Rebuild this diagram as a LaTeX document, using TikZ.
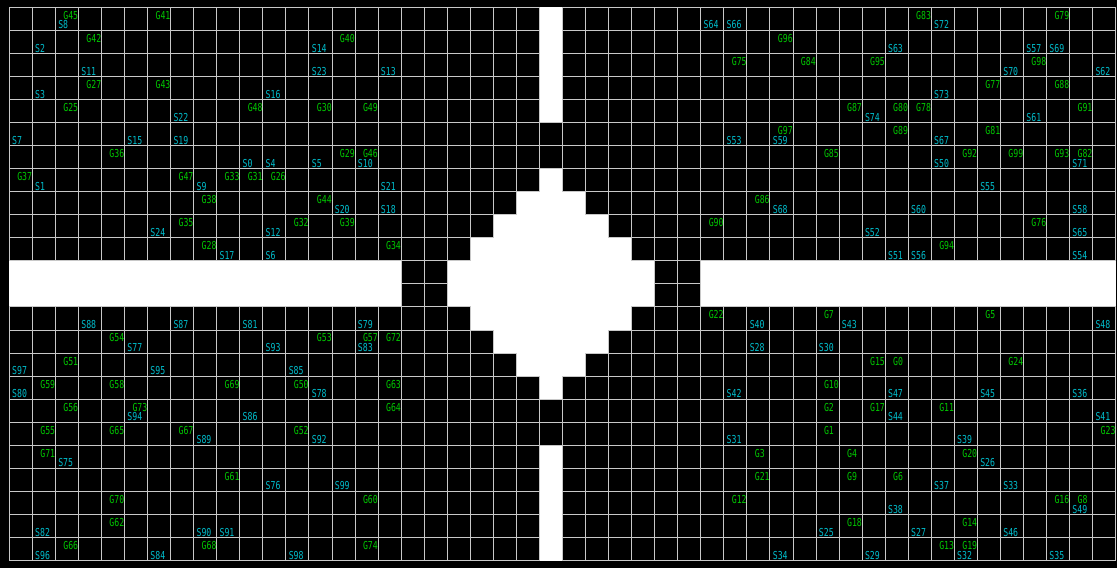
\documentclass[tikz,border=0pt]{standalone}
\usepackage{graphicx}
\usepackage{fontspec}
\newfontfamily\labfont{DejaVu Sans Mono}
\definecolor{gcol}{RGB}{0,200,0}
\definecolor{scol}{RGB}{0,190,205}
\definecolor{gridc}{RGB}{200,200,200}
\tikzset{
  glabel/.style={text=gcol, font=\labfont\fontsize{8.2}{8.2}\selectfont, anchor=west, inner sep=0pt},
  slabel/.style={text=scol, font=\labfont\fontsize{8.2}{8.2}\selectfont, anchor=west, inner sep=0pt},
  gridline/.style={draw=gridc, line width=0.75pt},
  freecell/.style={fill=white}
}
\begin{document}
\begin{tikzpicture}[x=0.75pt,y=-0.75pt]
\useasboundingbox (0,0) rectangle (1117,568);
\fill[black] (0,0) rectangle (1117,568);
\begin{scope}[shift={(9.3,7.3)},x=17.2875pt,y=-17.2875pt]
  % grid
  \foreach \c in {0,...,48} \draw[gridline] (\c,0) -- (\c,24);
  \foreach \r in {0,...,24} \draw[gridline] (0,\r) -- (48,\r);
  % free (white) regions
  \fill[freecell] (23,0) rectangle (24,5);
  \fill[freecell] (23,19) rectangle (24,24);
  \fill[freecell] (0,11) rectangle (17,13);
  \fill[freecell] (30,11) rectangle (48,13);
  \fill[freecell] (23,7) -- (24,7) -- (24,8) -- (25,8) -- (25,9) -- (26,9) -- (26,10) -- (27,10) -- (27,11) -- (28,11) -- (28,13) -- (27,13) -- (27,14) -- (26,14) -- (26,15) -- (25,15) -- (25,16) -- (24,16) -- (24,17) -- (23,17) -- (23,16) -- (22,16) -- (22,15) -- (21,15) -- (21,14) -- (20,14) -- (20,13) -- (19,13) -- (19,11) -- (20,11) -- (20,10) -- (21,10) -- (21,9) -- (22,9) -- (22,8) -- (23,8) -- cycle;
  % borders of free regions
  \draw[gridline] (23,0) -- (23,5) -- (24,5) -- (24,0);
  \draw[gridline] (23,24) -- (23,19) -- (24,19) -- (24,24);
  \draw[gridline] (0,11) -- (17,11) -- (17,13) -- (0,13);
  \draw[gridline] (48,11) -- (30,11) -- (30,13) -- (48,13);
  \draw[gridline] (23,7) -- (24,7) -- (24,8) -- (25,8) -- (25,9) -- (26,9) -- (26,10) -- (27,10) -- (27,11) -- (28,11) -- (28,13) -- (27,13) -- (27,14) -- (26,14) -- (26,15) -- (25,15) -- (25,16) -- (24,16) -- (24,17) -- (23,17) -- (23,16) -- (22,16) -- (22,15) -- (21,15) -- (21,14) -- (20,14) -- (20,13) -- (19,13) -- (19,11) -- (20,11) -- (20,10) -- (21,10) -- (21,9) -- (22,9) -- (22,8) -- (23,8) -- cycle;
  % G labels
  \foreach \c/\r/\n in {2/0/45, 6/0/41, 39/0/83, 45/0/79,
    3/1/42, 14/1/40, 33/1/96,
    31/2/75, 34/2/84, 37/2/95, 44/2/98,
    3/3/27, 6/3/43, 42/3/77, 45/3/88,
    2/4/25, 10/4/48, 13/4/30, 15/4/49, 36/4/87, 38/4/80, 39/4/78, 46/4/91,
    33/5/97, 38/5/89, 42/5/81,
    4/6/36, 14/6/29, 15/6/46, 35/6/85, 41/6/92, 43/6/99, 45/6/93, 46/6/82,
    0/7/37, 7/7/47, 9/7/33, 10/7/31, 11/7/26,
    8/8/38, 13/8/44, 32/8/86,
    7/9/35, 12/9/32, 14/9/39, 30/9/90, 44/9/76,
    8/10/28, 16/10/34, 40/10/94,
    30/13/22, 35/13/7, 42/13/5,
    4/14/54, 13/14/53, 15/14/57, 16/14/72,
    2/15/51, 37/15/15, 38/15/0, 43/15/24,
    1/16/59, 4/16/58, 9/16/69, 12/16/50, 16/16/63, 35/16/10,
    2/17/56, 5/17/73, 16/17/64, 35/17/2, 37/17/17, 40/17/11,
    1/18/55, 4/18/65, 7/18/67, 12/18/52, 35/18/1, 47/18/23,
    1/19/71, 32/19/3, 36/19/4, 41/19/20,
    9/20/61, 32/20/21, 36/20/9, 38/20/6,
    4/21/70, 15/21/60, 31/21/12, 45/21/16, 46/21/8,
    4/22/62, 36/22/18, 41/22/14,
    2/23/66, 8/23/68, 15/23/74, 40/23/13, 41/23/19}
    \node[glabel] (G\n) at (\c+0.334,\r+0.347) {\scalebox{0.75}[1]{G\n}};
  % S labels
  \foreach \c/\r/\n in {2/0/8, 30/0/64, 31/0/66, 40/0/72,
    1/1/2, 13/1/14, 38/1/63, 44/1/57, 45/1/69,
    3/2/11, 13/2/23, 16/2/13, 43/2/70, 47/2/62,
    1/3/3, 11/3/16, 40/3/73,
    7/4/22, 37/4/74, 44/4/61,
    0/5/7, 5/5/15, 7/5/19, 31/5/53, 33/5/59, 40/5/67,
    10/6/0, 11/6/4, 13/6/5, 15/6/10, 40/6/50, 46/6/71,
    1/7/1, 8/7/9, 16/7/21, 42/7/55,
    14/8/20, 16/8/18, 33/8/68, 39/8/60, 46/8/58,
    6/9/24, 11/9/12, 37/9/52, 46/9/65,
    9/10/17, 11/10/6, 38/10/51, 39/10/56, 46/10/54,
    3/13/88, 7/13/87, 10/13/81, 15/13/79, 32/13/40, 36/13/43, 47/13/48,
    5/14/77, 11/14/93, 15/14/83, 32/14/28, 35/14/30,
    0/15/97, 6/15/95, 12/15/85,
    0/16/80, 13/16/78, 31/16/42, 38/16/47, 42/16/45, 46/16/36,
    5/17/94, 10/17/86, 38/17/44, 47/17/41,
    8/18/89, 13/18/92, 31/18/31, 41/18/39,
    2/19/75, 42/19/26,
    11/20/76, 14/20/99, 40/20/37, 43/20/33,
    38/21/38, 46/21/49,
    1/22/82, 8/22/90, 9/22/91, 35/22/25, 39/22/27, 43/22/46,
    1/23/96, 6/23/84, 12/23/98, 33/23/34, 37/23/29, 41/23/32, 45/23/35}
    \node[slabel] (S\n) at (\c+0.113,\r+0.768) {\scalebox{0.75}[1]{S\n}};
\end{scope}
\end{tikzpicture}
\end{document}
